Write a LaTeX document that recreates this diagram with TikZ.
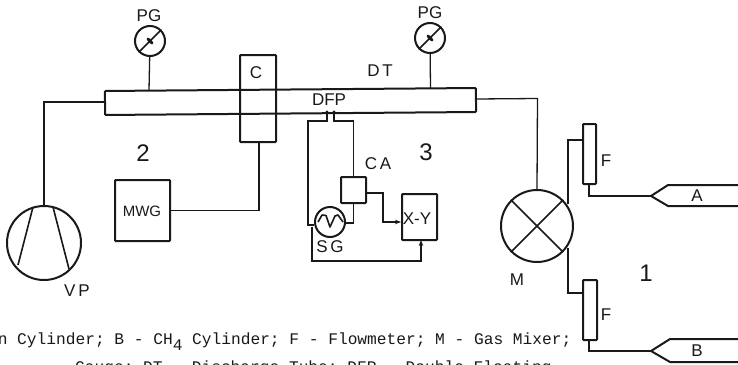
\documentclass[tikz,border=0pt]{standalone}
\usepackage{fontspec}
\setmainfont{Liberation Sans}
\newfontfamily\legendfont{Liberation Mono}
\usetikzlibrary{arrows.meta}
\tikzset{
  ln/.style={line width=1.3pt,color=black!90},
  inner line/.style={line width=1.6pt,color=black!90},
  thick box/.style={draw=black!90,line width=2pt,rounded corners=0.8pt,inner sep=0pt,fill=none},
  dial/.style={draw=black!90,line width=2pt,circle,inner sep=0pt},
  lab/.style={font=\fontsize{17}{17}\selectfont,text=black!90,inner sep=0pt},
  big/.style={font=\fontsize{24}{24}\selectfont,text=black!90,inner sep=0pt},
  legend/.style={font=\legendfont\fontsize{16.2}{16.2}\selectfont,text=black!90,inner sep=0pt,anchor=base west},
  tip/.style={-{Stealth[length=6pt,width=4.5pt]}}
}
\begin{document}
\begin{tikzpicture}[x=1pt,y=-1pt]
\clip (0,0) rectangle (738,364);
\fill[white] (0,0) rectangle (738,364);
% discharge tube and cooler
\node[thick box,minimum width=371pt,minimum height=24pt,rotate=0.46] (tube) at (290.5,101.5) {};
\node[thick box,minimum width=36pt,minimum height=87pt] (cbox) at (258,98.5) {};
\node[lab] (clab) at (256,73) {C};
\node[lab] (dtlab) at (380,71) {D\,T};
\node[lab] (dfplab) at (329,100) {DFP};
% gauges
\node[dial,minimum size=30pt] (pg1) at (150,41) {};
\node[dial,minimum size=30pt] (pg2) at (430,38) {};
\node[lab] (pg1lab) at (149,16) {PG};
\node[lab] (pg2lab) at (430,13) {PG};
\coordinate (t1) at (149,90.5);
\coordinate (t2) at (430.5,88.5);
\draw[ln] (pg1) -- (t1);
\draw[ln] (pg2) -- (t2);
\draw[inner line] (pg1.225) -- (pg1.45);
\draw[inner line] (pg2.225) -- (pg2.45);
\fill[black!90,rotate around={-45:(150,41)}] (150,41) ellipse (4.5 and 1.8);
\fill[black!90,rotate around={-45:(430,38)}] (430,38) ellipse (4.5 and 1.8);
% vacuum pump
\node[dial,minimum size=74pt] (vp) at (44,243) {};
\node[lab] (vplab) at (77,291) {V\,P};
\coordinate (tl) at (105,102);
\draw[ln] (tl) -| (vp.north);
\draw[inner line] (33,207) -- (18,265);
\draw[inner line] (53,207) -- (69,269);
% microwave generator
\node[thick box,minimum width=55pt,minimum height=61pt] (mwg) at (142.5,210.5) {};
\node[lab,font=\fontsize{15}{15}\selectfont] (mwglab) at (142,211) {MWG};
\coordinate (cb) at (259,142);
\draw[ln] (cb) |- (mwg.east);
\node[big] (two) at (143,153) {2};
\node[big] (three) at (426,152) {3};
% double floating probe
\coordinate (pa) at (327,112);
\coordinate (pb) at (334,112);
\fill[black!90] (pa) circle (1.6) (pb) circle (1.6);
\node[thick box,minimum width=25pt,minimum height=26pt] (ca) at (353.5,190) {};
\node[lab] (calab) at (378,164) {C\,A};
\node[dial,minimum size=30pt] (sg) at (330,222) {};
\node[lab] (sglab) at (330,247) {S\,G};
\node[thick box,minimum width=35pt,minimum height=46pt] (xy) at (419.5,217) {};
\node[lab] (xylab) at (417,219) {X-Y};
\coordinate (sgl) at (308,225);
\draw[ln] (pa) -- (327,121) -- (308,121) -- (sgl) -- (sg.west|-sgl);
\draw[ln] (pb) -- (334,121) -- (353.5,121) -- (ca.north);
\draw[ln] (ca.south) -- (353.5,223) -- (sg.east|-0,223);
\draw[ln,tip] (ca.east|-0,193) -- (383,193) -- (383,222) -- (xy.west|-0,222);
\draw[ln,tip] (312,227) -- (312,261) -- (421,261) -- (421,240);
\draw[inner line,line join=round] (318,222) -- (322,215) -- (326,215.5) -- (330,227) -- (335,216) -- (338,215) -- (343,222);
% mixer
\node[dial,minimum size=72pt] (mix) at (537,226) {};
\node[lab] (mlab) at (517,280) {M};
\draw[inner line] (mix.45) -- (mix.225);
\draw[inner line] (mix.135) -- (mix.315);
\coordinate (tr) at (476,99);
\draw[ln] (tr) -- (537.5,98.5) -- (mix.north);
% flowmeters
\node[thick box,minimum width=13pt,minimum height=60pt] (f1) at (589.5,154) {};
\node[thick box,minimum width=14pt,minimum height=60pt] (f2) at (590,310) {};
\node[lab] (f1lab) at (606,161) {F};
\node[lab] (f2lab) at (606,315) {F};
\coordinate (m1) at (568,204);
\coordinate (m2) at (568,248);
\draw[ln] (m1) -- (568,140) -- (f1.west|-0,140);
\draw[ln] (m2) -- (568,293) -- (f2.west|-0,293);
% cylinders
\coordinate (ca1) at (651,196);
\coordinate (cb1) at (651,351);
\draw[ln] (589,184) -- (589,196) -- (ca1);
\draw[ln] (589,340) -- (589,351) -- (cb1);
\draw[line width=2pt,black!90,line join=round] (739,185) -- (668,185) -- (ca1) -- (668,206) -- (739,206);
\draw[line width=2pt,black!90,line join=round] (739,339) -- (670,339) -- (cb1) -- (670,362) -- (739,362);
\node[lab] (alab) at (697,196) {A};
\node[lab] (blab) at (697,351) {B};
\node[big] (one) at (646,273) {1};
% legend
\node[legend] (l1) at (-2.4,344) {n Cylinder; B - CH\raisebox{-6pt}{4} Cylinder; F - Flowmeter; M - Gas Mixer;};
\node[legend] (l2) at (75,372) {Gauge; DT - Discharge Tube; DFP - Double Floating};
\end{tikzpicture}
\end{document}
